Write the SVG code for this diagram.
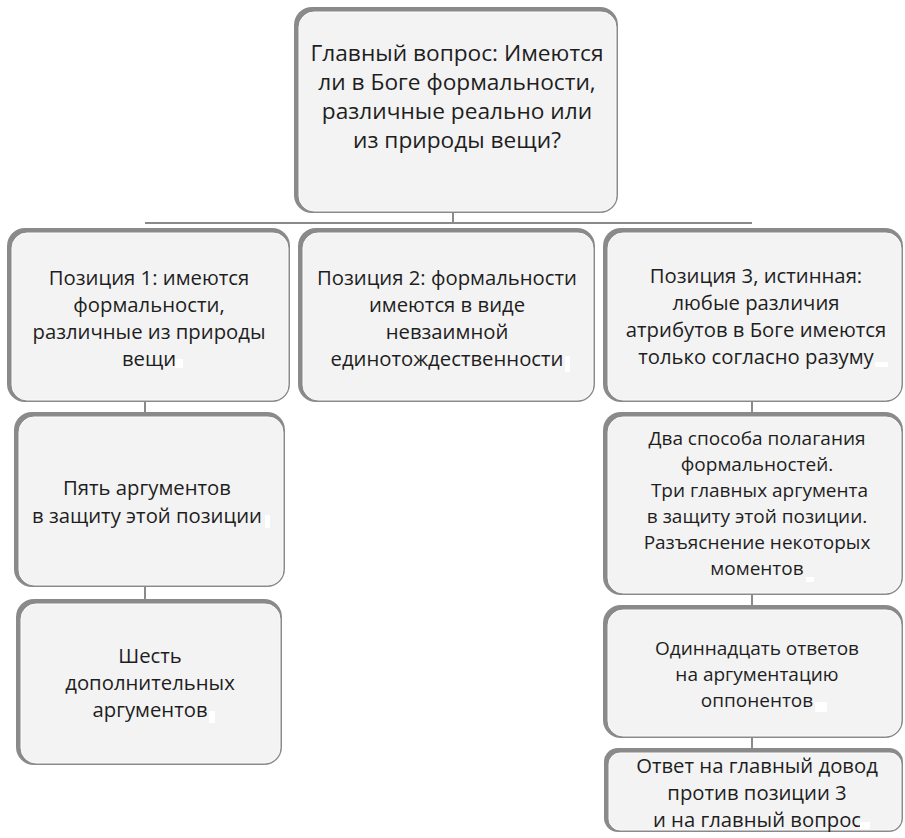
<svg xmlns="http://www.w3.org/2000/svg" width="905" height="838" viewBox="0 0 905 838">
<style>
.b{fill:#8a8a8a}
.i{fill:#f3f3f3;stroke:#fbfbfb;stroke-width:1}
.t{font-family:"Open Sans","Noto Sans","DejaVu Sans",sans-serif;font-size:20.3px;fill:#1e1e1e;text-anchor:middle}
.tt{font-size:22.7px}
.ts{font-size:19px}
.m{fill:#ffffff}
.c{stroke:#8a8a8a;stroke-width:2;fill:none}
</style>
<rect width="905" height="838" fill="#ffffff"/>
<g id="connectors">
<path class="c" d="M453 213V223M145 223H752M145 402V412M145 587V599M752 402V412M752 595V605M752 738V748"/>
</g>
<g id="main">
<rect class="b" x="294" y="7" width="324" height="206" rx="18"/>
<rect class="i" x="299" y="12" width="317" height="199" rx="15"/>
<text class="t tt" x="457"><tspan x="457" y="61">Главный вопрос: Имеются</tspan><tspan x="457" y="90">ли в Боге формальности,</tspan><tspan x="457" y="119">различные реально или</tspan><tspan x="457" y="148">из природы вещи?</tspan></text>
</g>
<g id="pos1">
<rect class="b" x="7" y="228" width="283" height="174" rx="18"/>
<rect class="i" x="12" y="233" width="276" height="167" rx="15"/>
<text class="t" x="149"><tspan x="149" y="285">Позиция 1: имеются</tspan><tspan x="149" y="312">формальности,</tspan><tspan x="149" y="339">различные из природы</tspan><tspan x="149" y="366">вещи</tspan></text>
<rect class="m" x="175" y="359" width="8" height="9"/>
</g>
<g id="pos2">
<rect class="b" x="298" y="228" width="297" height="174" rx="18"/>
<rect class="i" x="303" y="233" width="290" height="167" rx="15"/>
<text class="t" x="447"><tspan x="447" y="285">Позиция 2: формальности</tspan><tspan x="447" y="312">имеются в виде</tspan><tspan x="447" y="339">невзаимной</tspan><tspan x="447" y="366">единотождественности</tspan></text>
<rect class="m" x="565" y="356" width="5" height="16"/>
</g>
<g id="pos3">
<rect class="b" x="603" y="228" width="300" height="174" rx="18"/>
<rect class="i" x="608" y="233" width="293" height="167" rx="15"/>
<text class="t" x="756"><tspan x="756" y="283">Позиция 3, истинная:</tspan><tspan x="756" y="310">любые различия</tspan><tspan x="756" y="337">атрибутов в Боге имеются</tspan><tspan x="756" y="364">только согласно разуму</tspan></text>
<rect class="m" x="875" y="362" width="13" height="5"/>
</g>
<g id="five">
<rect class="b" x="14" y="412" width="271" height="175" rx="18"/>
<rect class="i" x="19" y="417" width="264" height="168" rx="15"/>
<text class="t" x="147"><tspan x="147" y="495">Пять аргументов</tspan><tspan x="147" y="523">в защиту этой позиции</tspan></text>
<rect class="m" x="265" y="515" width="5" height="13"/>
</g>
<g id="six">
<rect class="b" x="16" y="599" width="266" height="166" rx="18"/>
<rect class="i" x="21" y="604" width="259" height="159" rx="15"/>
<text class="t" x="150"><tspan x="150" y="663">Шесть</tspan><tspan x="150" y="690">дополнительных</tspan><tspan x="150" y="717">аргументов</tspan></text>
<rect class="m" x="209" y="711" width="6" height="12"/>
</g>
<g id="two">
<rect class="b" x="603" y="412" width="300" height="183" rx="18"/>
<rect class="i" x="608" y="417" width="293" height="176" rx="15"/>
<text class="t ts" x="757"><tspan x="757" y="445">Два способа полагания</tspan><tspan x="757" y="471">формальностей.</tspan><tspan x="757" y="497"> Три главных аргумента</tspan><tspan x="757" y="523">в защиту этой позиции.</tspan><tspan x="757" y="549">Разъяснение некоторых</tspan><tspan x="757" y="575">моментов</tspan></text>
<rect class="m" x="806" y="577" width="8" height="5"/>
</g>
<g id="eleven">
<rect class="b" x="603" y="605" width="300" height="133" rx="18"/>
<rect class="i" x="608" y="610" width="293" height="126" rx="15"/>
<text class="t ts" x="757"><tspan x="757" y="655">Одиннадцать ответов</tspan><tspan x="757" y="681">на аргументацию</tspan><tspan x="757" y="707">оппонентов</tspan></text>
<rect class="m" x="815" y="702" width="12" height="10"/>
</g>
<g id="answer">
<rect class="b" x="604" y="748" width="299" height="84" rx="14"/>
<rect class="i" x="609" y="753" width="292" height="77" rx="11"/>
<text class="t" x="757"><tspan x="757" y="773">Ответ на главный довод</tspan><tspan x="757" y="800">против позиции 3</tspan><tspan x="757" y="827">и на главный вопрос</tspan></text>
<rect class="m" x="860" y="822" width="10" height="7"/>
</g>
</svg>
